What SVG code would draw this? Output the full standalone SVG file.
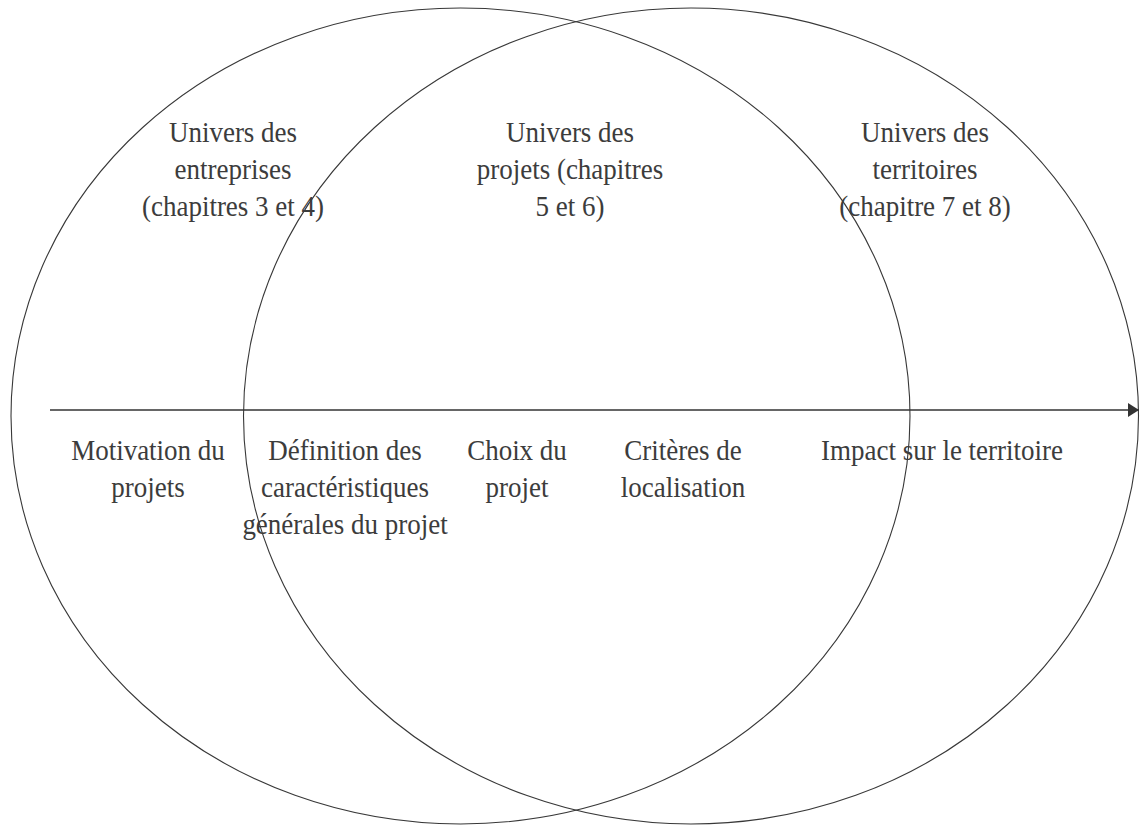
<svg xmlns="http://www.w3.org/2000/svg" width="1140" height="825" viewBox="0 0 1140 825">
<style>
.c{fill:none;stroke:#383838;stroke-width:1.1}
.t{font-family:'Liberation Serif','DejaVu Serif',serif;font-size:30px;fill:#3c3c3c;text-anchor:middle}
.a{stroke:#333;stroke-width:1.4;fill:none}
</style>
<defs>
<marker id="ah" markerUnits="userSpaceOnUse" markerWidth="12" markerHeight="16" refX="11" refY="7" orient="auto">
<path d="M0,0 L11,7 L0,14 Z" fill="#333"/>
</marker>
</defs>
<rect width="1140" height="825" fill="#fff"/>
<g id="ellipse-entreprises"><ellipse class="c" cx="460.5" cy="416" rx="449.5" ry="408"/></g>
<g id="ellipse-territoires"><ellipse class="c" cx="691" cy="416" rx="447.5" ry="408"/></g>
<g id="connectors"><line class="a" x1="50" y1="410" x2="1139" y2="410" marker-end="url(#ah)"/></g>
<g id="label-entreprises"><text class="t" font-family="Liberation Serif, DejaVu Serif, serif" transform="translate(233 0) scale(0.9 1)"><tspan x="0" y="142">Univers des</tspan><tspan x="0" y="179">entreprises</tspan><tspan x="0" y="216">(chapitres 3 et 4)</tspan></text></g>
<g id="label-projets"><text class="t" font-family="Liberation Serif, DejaVu Serif, serif" transform="translate(570 0) scale(0.9 1)"><tspan x="0" y="142">Univers des</tspan><tspan x="0" y="179">projets (chapitres</tspan><tspan x="0" y="216">5 et 6)</tspan></text></g>
<g id="label-territoires"><text class="t" font-family="Liberation Serif, DejaVu Serif, serif" transform="translate(925 0) scale(0.9 1)"><tspan x="0" y="142">Univers des</tspan><tspan x="0" y="179">territoires</tspan><tspan x="0" y="216">(chapitre 7 et 8)</tspan></text></g>
<g id="step-motivation"><text class="t" font-family="Liberation Serif, DejaVu Serif, serif" transform="translate(148 0) scale(0.9 1)"><tspan x="0" y="460">Motivation du</tspan><tspan x="0" y="497">projets</tspan></text></g>
<g id="step-definition"><text class="t" font-family="Liberation Serif, DejaVu Serif, serif" transform="translate(345 0) scale(0.9 1)"><tspan x="0" y="460">Définition des</tspan><tspan x="0" y="497">caractéristiques</tspan><tspan x="0" y="534">générales du projet</tspan></text></g>
<g id="step-choix"><text class="t" font-family="Liberation Serif, DejaVu Serif, serif" transform="translate(517 0) scale(0.9 1)"><tspan x="0" y="460">Choix du</tspan><tspan x="0" y="497">projet</tspan></text></g>
<g id="step-criteres"><text class="t" font-family="Liberation Serif, DejaVu Serif, serif" transform="translate(683 0) scale(0.9 1)"><tspan x="0" y="460">Critères de</tspan><tspan x="0" y="497">localisation</tspan></text></g>
<g id="step-impact"><text class="t" font-family="Liberation Serif, DejaVu Serif, serif" transform="translate(942 0) scale(0.9 1)"><tspan x="0" y="460">Impact sur le territoire</tspan></text></g>
</svg>
